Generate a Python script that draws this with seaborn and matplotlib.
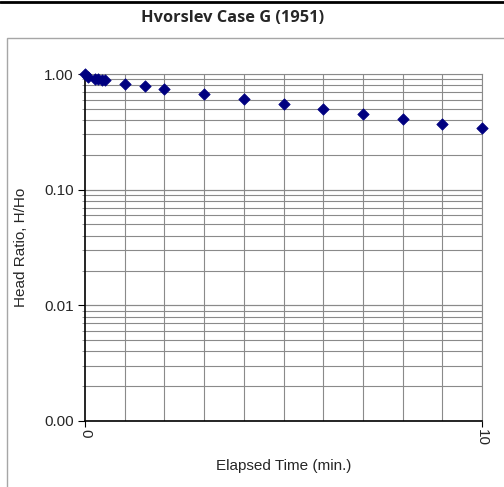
import numpy as np
import pandas as pd
import matplotlib
matplotlib.use("Agg")
import matplotlib.pyplot as plt
from matplotlib.ticker import FixedLocator, FixedFormatter, LogLocator, NullFormatter
from matplotlib.lines import Line2D
from matplotlib.patches import Rectangle
import seaborn as sns

# Slug test recovery: elapsed time (min) and normalized head H/Ho
elapsed_min = [0.0, 0.08, 0.25, 0.33, 0.42, 0.5, 1.0, 1.5, 2.0, 3.0, 4.0, 5.0, 6.0, 7.0, 8.0, 9.0, 10.0]
head_ratio = [1.00, 0.95, 0.91, 0.90, 0.89, 0.88, 0.82, 0.79, 0.74, 0.67, 0.61, 0.55, 0.50, 0.45, 0.41, 0.37, 0.34]

y_ticks = [0.001, 0.01, 0.1, 1.0]
y_tick_labels = ["0.00", "0.01", "0.10", "1.00"]
x_ticks = [0, 10]
x_tick_labels = ["0", "10"]

title = "Hvorslev Case G (1951)"
x_label = "Elapsed Time (min.)"
y_label = "Head Ratio, H/Ho"

df = pd.DataFrame({"t": elapsed_min, "h": head_ratio})

sns.set_theme(style="white")
plt.rcParams["font.family"] = ["Liberation Sans", "DejaVu Sans"]

W, H = 504, 487
fig = plt.figure(figsize=(W / 100, H / 100), dpi=100)
fig.patch.set_facecolor("white")

left, right, top, bottom = 85, 482, 74, 421
ax = fig.add_axes([left / W, 1 - bottom / H, (right - left) / W, (bottom - top) / H])

grid_c = "#8a8a8a"
ax.set_yscale("log")
ax.set_xlim(0, 10)
ax.set_ylim(0.001, 1.0)

# gridlines: every minute vertically, every log step horizontally
for xv in range(1, 11):
    ax.axvline(xv, color=grid_c, lw=0.8, zorder=1)
for dec in [0.001, 0.01, 0.1]:
    for m in range(1, 11):
        ax.axhline(dec * m, color=grid_c, lw=0.8, zorder=1)

sns.scatterplot(data=df, x="t", y="h", ax=ax, marker="D", s=34,
                color="#000080", edgecolor="#000080", linewidth=0.5,
                zorder=5, clip_on=False)

ax.xaxis.set_major_locator(FixedLocator(x_ticks))
ax.xaxis.set_major_formatter(FixedFormatter(x_tick_labels))
ax.yaxis.set_major_locator(FixedLocator(y_ticks))
ax.yaxis.set_major_formatter(FixedFormatter(y_tick_labels))
ax.yaxis.set_minor_locator(LogLocator(base=10, subs=np.arange(2, 10)))
ax.yaxis.set_minor_formatter(NullFormatter())

ax.tick_params(axis="x", which="major", direction="out", length=4, width=0.8,
               color="black", labelsize=11, pad=2, labelrotation=-90, bottom=True)
ax.tick_params(axis="y", which="major", direction="out", length=5, width=0.8,
               color="black", labelsize=11, pad=3, left=True)
ax.tick_params(axis="y", which="minor", direction="out", length=2, width=0.6,
               color=grid_c, left=True)
for lab in ax.get_xticklabels():
    lab.set_verticalalignment("top")

for side in ["left", "bottom"]:
    ax.spines[side].set_color("black")
    ax.spines[side].set_linewidth(1.2)
for side in ["top", "right"]:
    ax.spines[side].set_color(grid_c)
    ax.spines[side].set_linewidth(0.8)

ax.set_xlabel(x_label, fontsize=11, labelpad=9)
ax.set_ylabel(y_label, fontsize=11, labelpad=12)

# outer chart frame and rule above the title
fig.add_artist(Rectangle((6.5 / W, -0.1), 1.2, 1.1 - 37.5 / H, transform=fig.transFigure,
                         fill=False, edgecolor="#a6a6a6", lw=1.0))
fig.add_artist(Line2D([0, 1], [1 - 1.5 / H, 1 - 1.5 / H], transform=fig.transFigure,
                      color="black", lw=2.0))
fig.text(233 / W, 1 - 18 / H, title, ha="center", va="center",
         fontsize=11.8, fontweight="bold", family=["Open Sans", "DejaVu Sans"])

fig.savefig("out.png", dpi=100, facecolor="white")
